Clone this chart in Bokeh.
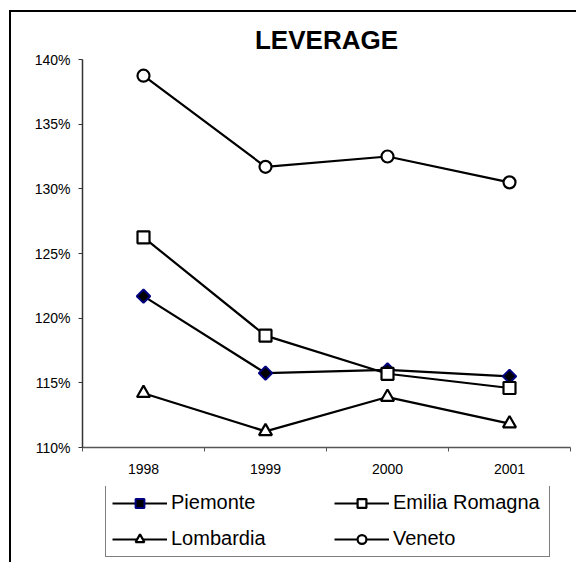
import math
from bokeh.plotting import figure
from bokeh.layouts import column
from bokeh.models import Range1d, FixedTicker, PrintfTickFormatter, Legend, LegendItem
from bokeh.embed import file_html
from bokeh.resources import INLINE

# ---- data ----
years = [1998, 1999, 2000, 2001]
year_labels = ["1998", "1999", "2000", "2001"]
piemonte = [121.7, 115.75, 116.0, 115.5]
emilia_romagna = [126.25, 118.65, 115.7, 114.6]
lombardia = [114.2, 111.25, 113.9, 111.85]
veneto = [138.75, 131.7, 132.5, 130.5]
y_ticks = [110, 115, 120, 125, 130, 135, 140]
title_text = "LEVERAGE"

FONT = "Liberation Sans"
W = 565
H1 = 474
H2 = 76
BL, BR = 71, 6

# series styles
styles = {
    "Piemonte": dict(marker="square", angle=math.pi / 4, size=9.5, fill_color="black",
                     line_color="#000080", line_width=2),
    "Emilia Romagna": dict(marker="square", size=12, fill_color="white",
                           line_color="black", line_width=2.2),
    "Lombardia": dict(marker="triangle", size=13, fill_color="white",
                      line_color="black", line_width=2.2),
    "Veneto": dict(marker="circle", size=12, fill_color="white",
                   line_color="black", line_width=2.2),
}
series = {"Piemonte": piemonte, "Emilia Romagna": emilia_romagna,
          "Lombardia": lombardia, "Veneto": veneto}
LW = 2.2

p = figure(width=W, height=H1, output_backend="svg", toolbar_location=None,
           x_range=Range1d(years[0] - 0.5, years[-1] + 0.5),
           y_range=Range1d(y_ticks[0], y_ticks[-1]),
           min_border_left=BL, min_border_right=BR, min_border_top=47, min_border_bottom=39)
p.background_fill_color = "white"
p.border_fill_color = "white"
p.outline_line_color = None
p.grid.visible = False

p.title.text = title_text
p.title.align = "center"
p.title.text_font = FONT
p.title.text_font_size = "26px"
p.title.text_font_style = "bold"
p.title.text_color = "black"
p.title.standoff = 10

# x axis: labels at category centres, ticks between categories
bounds = [y - 0.5 for y in years] + [years[-1] + 0.5]
p.xaxis.ticker = FixedTicker(ticks=years, minor_ticks=bounds)
p.xaxis.major_label_overrides = {y: s for y, s in zip(years, year_labels)}
p.xaxis.major_tick_out = 0
p.xaxis.major_tick_in = 0
p.xaxis.minor_tick_out = 4
p.xaxis.minor_tick_in = 0
p.xaxis.major_label_standoff = 12
p.xaxis.axis_line_color = "#555555"
p.xaxis.minor_tick_line_color = "#555555"
p.xaxis.axis_line_width = 1.5

# y axis
p.yaxis.ticker = FixedTicker(ticks=y_ticks, minor_ticks=[])
p.yaxis.formatter = PrintfTickFormatter(format="%d%%")
p.yaxis.major_tick_out = 4
p.yaxis.major_tick_in = 0
p.yaxis.major_label_standoff = 8
p.yaxis.axis_line_color = "#333333"
p.yaxis.major_tick_line_color = "#333333"
p.yaxis.axis_line_width = 1.5

for ax in (p.xaxis, p.yaxis):
    ax.major_label_text_font = FONT
    ax.major_label_text_font_size = "14px"
    ax.major_label_text_color = "black"

for name, vals in series.items():
    p.line(years, vals, line_color="black", line_width=LW)
    p.scatter(years, vals, **styles[name])

# legend figure below the chart (same side borders so the frames align)
p2 = figure(width=W, height=H2, output_backend="svg", toolbar_location=None,
            x_range=Range1d(0, 1), y_range=Range1d(0, 1),
            x_axis_location=None, y_axis_location=None,
            min_border_left=BL, min_border_right=BR, min_border_top=0, min_border_bottom=0)
p2.background_fill_color = "white"
p2.border_fill_color = "white"
p2.outline_line_color = None
p2.grid.visible = False

items = {}
for name, vals in series.items():
    # same series, outside this figure's ranges: only their legend glyphs show
    rl = p2.line(years, vals, line_color="black", line_width=LW)
    rm = p2.scatter(years, vals, **styles[name])
    items[name] = LegendItem(label=name, renderers=[rl, rm])

# column-major fill: first column Piemonte/Lombardia, second Emilia Romagna/Veneto
legend = Legend(items=[items["Piemonte"], items["Lombardia"],
                       items["Emilia Romagna"], items["Veneto"]],
                location=(23, 5), ncols=2)
legend.label_text_font = FONT
legend.label_text_font_size = "20px"
legend.label_text_color = "black"
legend.glyph_width = 55
legend.glyph_height = 22
legend.label_height = 22
legend.label_width = 150
legend.label_standoff = 4
legend.spacing = 13
legend.padding = 6
legend.margin = 0
legend.border_line_color = "black"
legend.border_line_width = 1
legend.background_fill_color = "white"
legend.background_fill_alpha = 1
p2.add_layout(legend, "center")

layout = column(p, p2, spacing=0, margin=(10, 0, 0, 9),
                width=W + 2, height=H1 + H2 + 2,
                styles={"border-left": "2px solid black", "border-top": "2px solid black",
                        "overflow": "hidden"})

open("out.html", "w").write(file_html(layout, INLINE))
